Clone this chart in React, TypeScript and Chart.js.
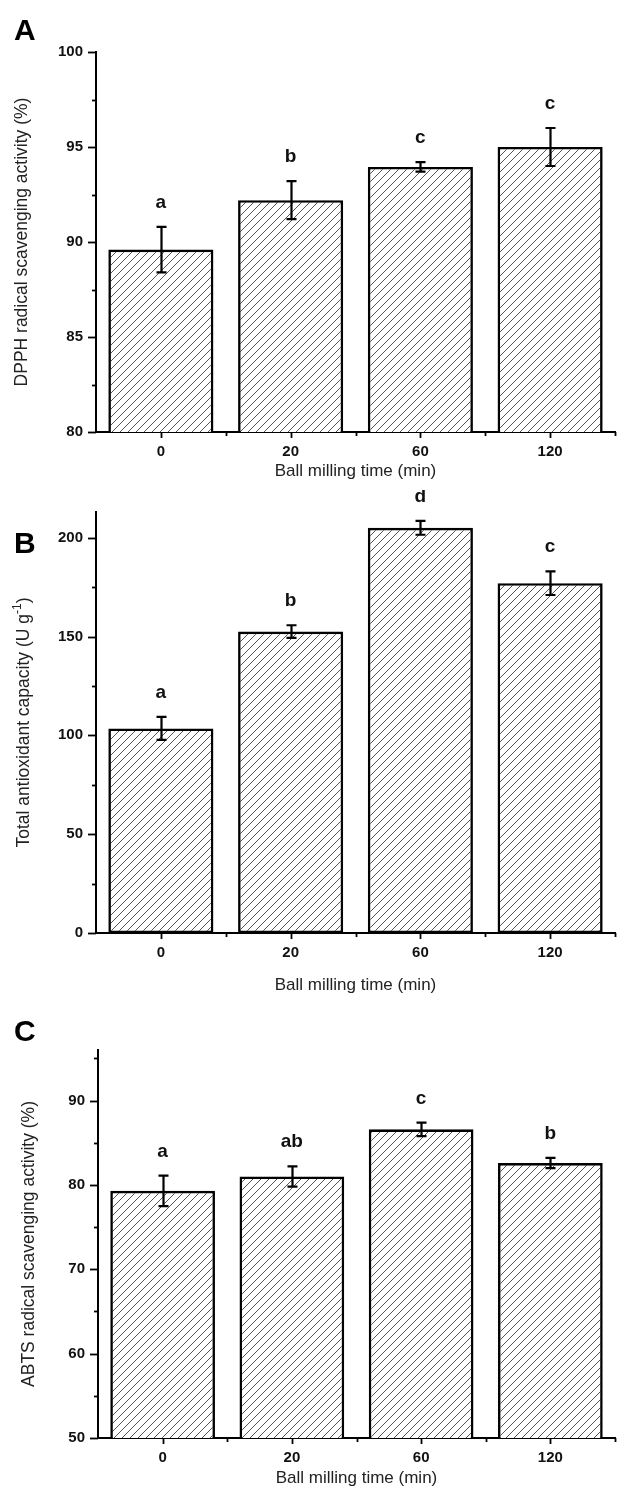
import React, { useEffect, useRef } from 'react';
import { Chart, registerables } from 'chart.js';

Chart.register(...registerables);

const categories = ['0', '20', '60', '120'];

const dpphValues = [89.6, 92.2, 93.95, 95.0];
const dpphErrors = [1.2, 1.0, 0.25, 1.0];
const dpphLetters = ['a', 'b', 'c', 'c'];
const dpphRange = [80, 100];
const dpphSteps = [5, 2.5];

const taocValues = [103.5, 152.5, 205, 177];
const taocErrors = [5.8, 3.2, 3.5, 6.0];
const taocLetters = ['a', 'b', 'd', 'c'];
const taocRange = [0, 213];
const taocSteps = [50, 25];

const abtsValues = [79.3, 81.0, 86.6, 82.6];
const abtsErrors = [1.8, 1.2, 0.8, 0.6];
const abtsLetters = ['a', 'ab', 'c', 'b'];
const abtsRange = [50, 96];
const abtsSteps = [10, 5];

const xTitle = 'Ball milling time (min)';

const FONT = "'Liberation Sans', Arial, Helvetica, sans-serif";

type Panel = {
  tag: string;
  values: number[];
  errors: number[];
  letters: string[];
  range: number[];
  steps: number[];
  yTitle: string;
  ySup?: string;
  yTitleTail?: string;
  canvasTop: number;
  height: number;
  axisTop: number;
  axisBottom: number;
  left: number;
  right: number;
  tagBaseline: number;
  yTitleX: number;
  xTitleY: number;
};

const panels: Panel[] = [
  {
    tag: 'A', values: dpphValues, errors: dpphErrors, letters: dpphLetters,
    range: dpphRange, steps: dpphSteps,
    yTitle: 'DPPH radical scavenging activity (%)',
    canvasTop: 0, height: 490, axisTop: 52, axisBottom: 432, left: 96, right: 615,
    tagBaseline: 40, yTitleX: 22, xTitleY: 471,
  },
  {
    tag: 'B', values: taocValues, errors: taocErrors, letters: taocLetters,
    range: taocRange, steps: taocSteps,
    yTitle: 'Total antioxidant capacity (U g', ySup: '-1', yTitleTail: ')',
    canvasTop: 490, height: 510, axisTop: 512, axisBottom: 933, left: 96, right: 615,
    tagBaseline: 553, yTitleX: 24, xTitleY: 985,
  },
  {
    tag: 'C', values: abtsValues, errors: abtsErrors, letters: abtsLetters,
    range: abtsRange, steps: abtsSteps,
    yTitle: 'ABTS radical scavenging activity (%)',
    canvasTop: 1000, height: 493, axisTop: 1050, axisBottom: 1438, left: 98, right: 615,
    tagBaseline: 1041, yTitleX: 29, xTitleY: 1478,
  },
];

function makeHatch(): CanvasPattern | string {
  const c = document.createElement('canvas');
  const s = 8;
  c.width = s;
  c.height = s;
  const g = c.getContext('2d');
  if (!g) return '#fff';
  g.fillStyle = '#fff';
  g.fillRect(0, 0, s, s);
  g.strokeStyle = '#555';
  g.lineWidth = 1;
  g.beginPath();
  g.moveTo(-1, s + 1);
  g.lineTo(s + 1, -1);
  g.moveTo(-1, 1);
  g.lineTo(1, -1);
  g.moveTo(s - 1, s + 1);
  g.lineTo(s + 1, s - 1);
  g.stroke();
  const p = g.createPattern(c, 'repeat');
  return p || '#fff';
}

const isMajor = (v: number, major: number) => Math.abs(v / major - Math.round(v / major)) < 1e-6;

const decorPlugin = {
  id: 'panelDecor',
  afterDraw(chart: any) {
    const p: Panel = chart.options.plugins.panelDecor.panel;
    const ctx: CanvasRenderingContext2D = chart.ctx;
    const xs = chart.scales.x;
    const ys = chart.scales.y;
    const area = chart.chartArea;
    ctx.save();
    ctx.strokeStyle = '#000';
    ctx.fillStyle = '#111';
    ctx.lineCap = 'butt';

    // y ticks
    ctx.lineWidth = 1.8;
    ys.ticks.forEach((t: any) => {
      const py = Math.round(ys.getPixelForValue(t.value)) + 0.5;
      const len = isMajor(t.value, p.steps[0]) ? 8 : 4;
      ctx.beginPath();
      ctx.moveTo(area.left - len, py);
      ctx.lineTo(area.left, py);
      ctx.stroke();
    });

    // x ticks
    for (let i = 0; i < categories.length; i++) {
      const px = Math.round(xs.getPixelForValue(i)) + 0.5;
      ctx.beginPath();
      ctx.moveTo(px, area.bottom);
      ctx.lineTo(px, area.bottom + 6);
      ctx.stroke();
    }
    for (let i = 1; i <= categories.length; i++) {
      const a = xs.getPixelForValue(i - 1);
      const b = i < categories.length ? xs.getPixelForValue(i) : a + (a - xs.getPixelForValue(i - 2));
      const px = Math.round((a + b) / 2) + 0.5;
      ctx.beginPath();
      ctx.moveTo(px, area.bottom);
      ctx.lineTo(px, area.bottom + 4);
      ctx.stroke();
    }

    // error bars and letters
    const meta = chart.getDatasetMeta(0);
    ctx.lineWidth = 2.2;
    meta.data.forEach((bar: any, i: number) => {
      const v = p.values[i];
      const e = p.errors[i];
      const yTop = ys.getPixelForValue(v + e);
      const yBot = ys.getPixelForValue(v - e);
      const x = Math.round(bar.x) + 0.5;
      ctx.beginPath();
      ctx.moveTo(x, yTop);
      ctx.lineTo(x, yBot);
      ctx.moveTo(x - 5, yTop);
      ctx.lineTo(x + 5, yTop);
      ctx.moveTo(x - 5, yBot);
      ctx.lineTo(x + 5, yBot);
      ctx.stroke();
      ctx.font = `bold 19px ${FONT}`;
      ctx.textAlign = 'center';
      ctx.textBaseline = 'alphabetic';
      ctx.fillText(p.letters[i], bar.x, yTop - 19);
    });

    // panel tag
    ctx.font = `bold 30px ${FONT}`;
    ctx.textAlign = 'left';
    ctx.textBaseline = 'alphabetic';
    ctx.fillStyle = '#000';
    ctx.fillText(p.tag, 14, p.tagBaseline - p.canvasTop);

    // x title
    ctx.fillStyle = '#222';
    ctx.font = `17px ${FONT}`;
    ctx.textAlign = 'center';
    ctx.textBaseline = 'middle';
    ctx.fillText(xTitle, (area.left + area.right) / 2, p.xTitleY - p.canvasTop);

    // y title (rotated)
    ctx.save();
    ctx.translate(p.yTitleX, (area.top + area.bottom) / 2);
    ctx.rotate(-Math.PI / 2);
    ctx.textBaseline = 'middle';
    ctx.textAlign = 'left';
    ctx.font = `17.5px ${FONT}`;
    const w1 = ctx.measureText(p.yTitle).width;
    let wSup = 0;
    let wTail = 0;
    if (p.ySup) {
      ctx.font = `12px ${FONT}`;
      wSup = ctx.measureText(p.ySup).width;
      ctx.font = `17.5px ${FONT}`;
      wTail = ctx.measureText(p.yTitleTail || '').width;
    }
    const total = w1 + wSup + wTail;
    let cx = -total / 2;
    ctx.fillText(p.yTitle, cx, 0);
    cx += w1;
    if (p.ySup) {
      ctx.font = `12px ${FONT}`;
      ctx.fillText(p.ySup, cx, -6);
      cx += wSup;
      ctx.font = `17.5px ${FONT}`;
      ctx.fillText(p.yTitleTail || '', cx, 0);
    }
    ctx.restore();

    ctx.restore();
  },
};

function PanelChart({ panel }: { panel: Panel }) {
  const ref = useRef<HTMLCanvasElement | null>(null);
  useEffect(() => {
    if (!ref.current) return;
    const hatch = makeHatch();
    const chart = new Chart(ref.current, {
      type: 'bar',
      data: {
        labels: categories,
        datasets: [
          {
            data: panel.values,
            backgroundColor: hatch as any,
            borderColor: '#000',
            borderWidth: 2.6,
            borderSkipped: false,
            barPercentage: 0.81,
            categoryPercentage: 1,
          },
        ],
      },
      options: {
        responsive: false,
        animation: false,
        events: [],
        layout: {
          padding: {
            left: 0,
            right: 617 - panel.right,
            top: panel.axisTop - panel.canvasTop,
            bottom: 0,
          },
        },
        plugins: {
          legend: { display: false },
          tooltip: { enabled: false },
          panelDecor: { panel },
        } as any,
        scales: {
          x: {
            type: 'category',
            offset: true,
            grid: { display: false, drawTicks: false },
            border: { display: true, color: '#000', width: 2 },
            ticks: {
              color: '#111',
              font: { family: FONT, weight: 'bold', size: 15 },
              padding: 11,
              maxRotation: 0,
              autoSkip: false,
            },
            afterFit: (s: any) => {
              s.height = panel.canvasTop + panel.height - panel.axisBottom;
            },
          },
          y: {
            type: 'linear',
            min: panel.range[0],
            max: panel.range[1],
            grid: { display: false, drawTicks: false },
            border: { display: true, color: '#000', width: 2 },
            ticks: {
              stepSize: panel.steps[1],
              includeBounds: false,
              autoSkip: false,
              color: '#111',
              font: { family: FONT, weight: 'bold', size: 15 },
              padding: 13,
              callback: (v: any) => (isMajor(Number(v), panel.steps[0]) ? String(v) : ''),
            },
            afterFit: (s: any) => {
              s.width = panel.left;
            },
          },
        },
      } as any,
      plugins: [decorPlugin],
    });
    return () => chart.destroy();
  }, [panel]);
  return (
    <canvas
      ref={ref}
      width={617}
      height={panel.height}
      style={{ position: 'absolute', left: 0, top: panel.canvasTop, width: 617, height: panel.height }}
    />
  );
}

export default function App() {
  return (
    <div style={{ position: 'absolute', left: 0, top: 0, width: 617, height: 1493, background: '#fff', overflow: 'hidden' }}>
      {panels.map((p) => (
        <PanelChart key={p.tag} panel={p} />
      ))}
    </div>
  );
}
